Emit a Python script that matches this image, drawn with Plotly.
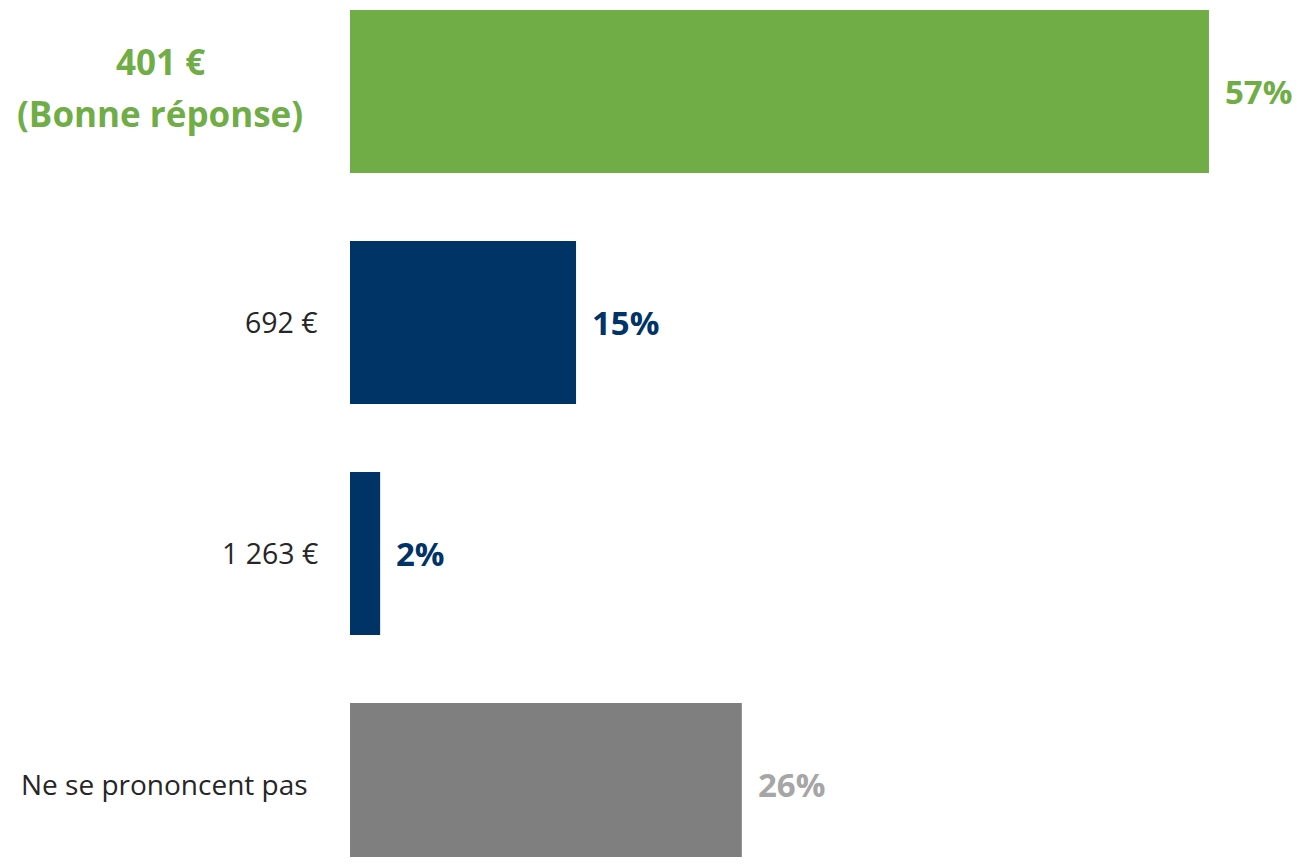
import plotly.graph_objects as go

categories = ["401 €", "692 €", "1 263 €", "Ne se prononcent pas"]
values = [57, 15, 2, 26]
bar_colors = ["#70AD47", "#003366", "#003366", "#7F7F7F"]
value_colors = ["#70AD47", "#003366", "#003366", "#A6A6A6"]
value_labels = ["57%", "15%", "2%", "26%"]

FONT = "Open Sans"

fig = go.Figure()
fig.add_trace(go.Bar(
    x=values, y=categories, orientation="h",
    marker=dict(color=bar_colors, line=dict(width=0)),
    width=0.706, hoverinfo="skip",
))

# value labels at the end of each bar
for cat, v, lab, col in zip(categories, values, value_labels, value_colors):
    fig.add_annotation(x=v, y=cat, xref="x", yref="y", text="<b>%s</b>" % lab,
                       showarrow=False, xanchor="left", xshift=14,
                       font=dict(family=FONT, size=33, color=col))

# category labels on the left
fig.add_annotation(x=0, y=categories[0], xref="paper", yref="y", text="<b>401 €</b>",
                   showarrow=False, xanchor="center", xshift=-190, yshift=30,
                   font=dict(family=FONT, size=35, color="#70AD47"))
fig.add_annotation(x=0, y=categories[0], xref="paper", yref="y", text="<b>(Bonne réponse)</b>",
                   showarrow=False, xanchor="center", xshift=-190, yshift=-22,
                   font=dict(family=FONT, size=35, color="#70AD47"))
for cat in categories[1:3]:
    fig.add_annotation(x=0, y=cat, xref="paper", yref="y", text=cat,
                       showarrow=False, xanchor="right", xshift=-30,
                       font=dict(family=FONT, size=28.5, color="#262626"))
fig.add_annotation(x=0, y=categories[3], xref="paper", yref="y", text=categories[3],
                   showarrow=False, xanchor="center", xshift=-186,
                   font=dict(family=FONT, size=28, color="#262626"))

# page has an 8px body margin, so the figure is sized to fit inside it
fig.update_layout(
    width=1284, height=849,
    margin=dict(l=342, r=0, t=0, b=0),
    paper_bgcolor="white", plot_bgcolor="white",
    showlegend=False,
    xaxis=dict(range=[0, 62.51], visible=False),
    yaxis=dict(range=[3.314, -0.3615], showticklabels=False, showgrid=False,
               zeroline=False, showline=False, ticks=""),
)

fig.write_html("out.html")
